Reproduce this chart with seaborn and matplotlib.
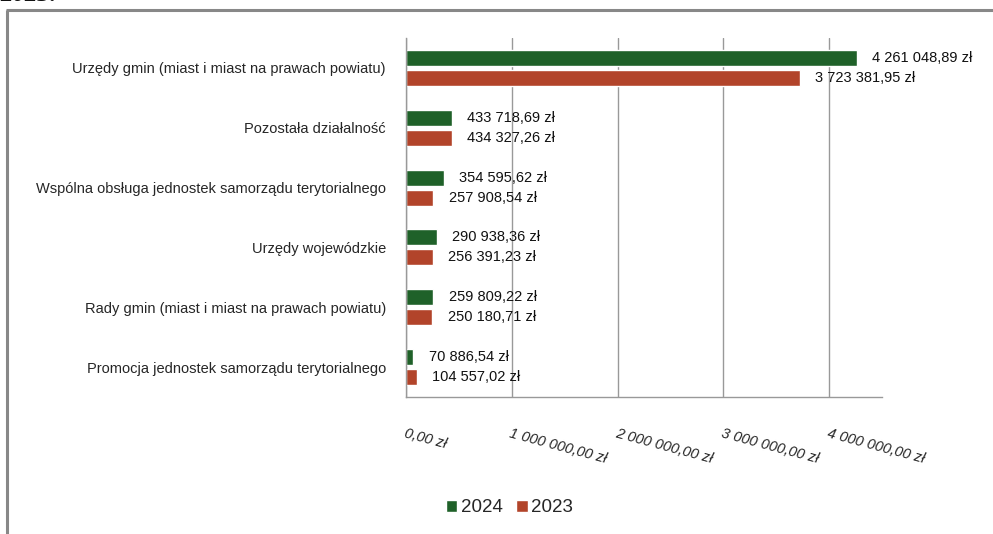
import matplotlib
matplotlib.use("Agg")
import matplotlib.pyplot as plt
import matplotlib.lines as mlines
from matplotlib.ticker import FixedLocator, FuncFormatter
import seaborn as sns
import pandas as pd

categories = [
    "Urzędy gmin (miast i miast na prawach powiatu)",
    "Pozostała działalność",
    "Wspólna obsługa jednostek samorządu terytorialnego",
    "Urzędy wojewódzkie",
    "Rady gmin (miast i miast na prawach powiatu)",
    "Promocja jednostek samorządu terytorialnego",
]
values_2024 = [4261048.89, 433718.69, 354595.62, 290938.36, 259809.22, 70886.54]
values_2023 = [3723381.95, 434327.26, 257908.54, 256391.23, 250180.71, 104557.02]
series = ["2024", "2023"]
x_ticks = [0, 1000000, 2000000, 3000000, 4000000]

colors = {"2024": "#1F6129", "2023": "#B2442A"}

def pl_money(v):
    s = f"{v:,.2f}"
    s = s.replace(",", " ").replace(".", ",")
    return s + " zł"

df = pd.DataFrame({
    "kategoria": categories * 2,
    "rok": [series[0]] * len(categories) + [series[1]] * len(categories),
    "wartosc": values_2024 + values_2023,
})

sns.set_style("white")
plt.rcParams["font.family"] = ["Liberation Sans", "DejaVu Sans"]

fig = plt.figure(figsize=(9.93, 5.34), dpi=100)
ax = fig.add_axes([406 / 993, 1 - 397 / 534, (882 - 406) / 993, (397 - 38) / 534])

sns.barplot(data=df, y="kategoria", x="wartosc", hue="rok", hue_order=series,
            order=categories, orient="h", palette=colors, width=0.667, gap=0.2,
            ax=ax, legend=True, saturation=1)

# value labels
for cont in ax.containers:
    ax.bar_label(cont, labels=[pl_money(v) for v in cont.datavalues],
                 padding=11, fontsize=10.5, color="#111111")

ax.set_xlim(0, 4500000)
ax.set_ylim(5.5, -0.5)
ax.set_xlabel("")
ax.set_ylabel("")

ax.xaxis.set_major_locator(FixedLocator(x_ticks))
ax.xaxis.set_major_formatter(FuncFormatter(lambda v, p: pl_money(v)))
for lab in ax.get_xticklabels():
    lab.set_rotation(-15)
    lab.set_rotation_mode("anchor")
    lab.set_ha("left")
    lab.set_va("top")
    lab.set_fontstyle("italic")
    lab.set_fontsize(10.5)
ax.tick_params(axis="x", direction="out", length=5, width=1, color="#999999", pad=16.5)

# y: labels at group centers (no tick), tick marks at boundaries
ax.set_yticks(range(len(categories)))
ax.set_yticklabels(categories, fontsize=10.5)
ax.tick_params(axis="y", which="major", length=0, pad=14.4)
ax.yaxis.set_minor_locator(FixedLocator([i - 0.5 for i in range(len(categories) + 1)]))
ax.tick_params(axis="y", which="minor", direction="out", length=5, width=1, color="#999999")

ax.grid(axis="x", color="#999999", linewidth=1)
ax.set_axisbelow(True)
for s in ["top", "right"]:
    ax.spines[s].set_visible(False)
for s in ["left", "bottom"]:
    ax.spines[s].set_color("#999999")
    ax.spines[s].set_linewidth(1)

leg = ax.get_legend()
handles = leg.legend_handles
leg.remove()
fig.legend(handles, series, loc="center", bbox_to_anchor=(0.513, 1 - 508 / 534),
           ncol=2, frameon=False, fontsize=13.5, handlelength=0.62, handleheight=0.62,
           handletextpad=0.2, columnspacing=0.7)

# outer frame
fig.add_artist(mlines.Line2D([7 / 993, 7 / 993], [0, 1 - 10 / 534], color="#888888", linewidth=2.2,
                             transform=fig.transFigure, solid_capstyle="butt"))
fig.add_artist(mlines.Line2D([6 / 993, 1], [1 - 10 / 534, 1 - 10 / 534], color="#888888", linewidth=2.2,
                             transform=fig.transFigure, solid_capstyle="butt"))

# cut-off heading text at top (as in the reference)
fig.text(0.0, 1 - 1 / 534, "2023.", fontsize=18, fontweight="bold", fontstyle="italic",
         family=["Liberation Serif", "DejaVu Serif"], va="baseline", ha="left", color="#111111")

fig.savefig("out.png", dpi=100)
